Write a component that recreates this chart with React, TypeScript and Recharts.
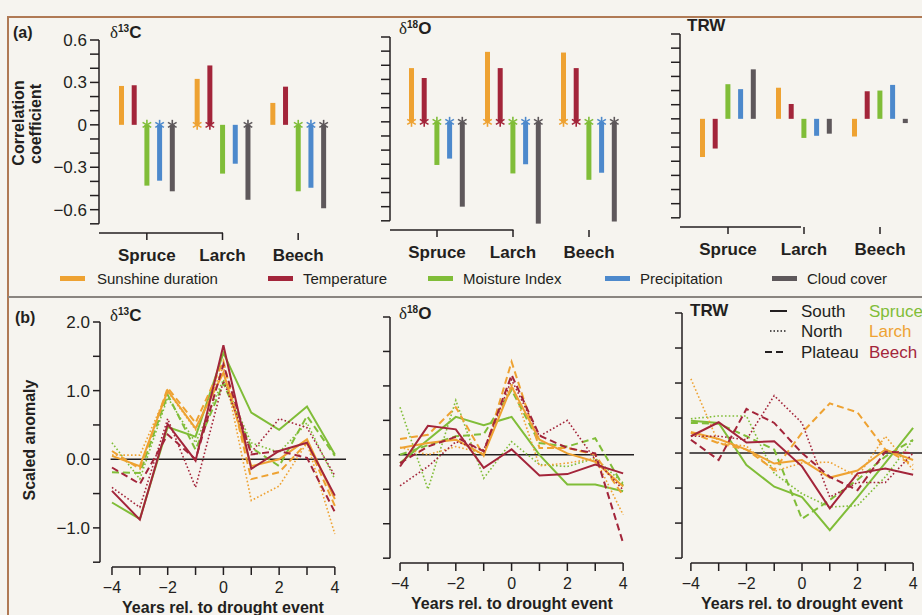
import { BarChart, Bar, LineChart, Line, XAxis, YAxis, ReferenceLine } from "recharts";

const FONT = '"Liberation Sans", Arial, sans-serif';
const SERIF = '"Liberation Serif", "DejaVu Serif", serif';
const INK = "#231f20";
const PAPER = "#f6f4ef";
const ORANGE = "#eea232";
const RED = "#a3253a";
const GREEN = "#80bd38";
const BLUE = "#4d89cc";
const GRAY = "#5e585b";

// ---- (a) correlation coefficients, values per species: Spruce, Larch, Beech
const species = ["Spruce", "Larch", "Beech"];
const climateNames = ["Sunshine duration", "Temperature", "Moisture Index", "Precipitation", "Cloud cover"];
const climateKeys = ["sun", "temp", "moist", "prec", "cloud"];
const climateColors = [ORANGE, RED, GREEN, BLUE, GRAY];

const c13Sun = [0.275, 0.325, 0.155];
const c13Temp = [0.28, 0.42, 0.27];
const c13Moist = [-0.43, -0.345, -0.47];
const c13Prec = [-0.395, -0.275, -0.445];
const c13Cloud = [-0.47, -0.53, -0.59];
const c13Sig = [
  [false, true, false],
  [false, true, false],
  [true, false, true],
  [true, false, true],
  [true, true, true],
];

const o18Sun = [0.38, 0.495, 0.49];
const o18Temp = [0.31, 0.38, 0.38];
const o18Moist = [-0.305, -0.365, -0.41];
const o18Prec = [-0.26, -0.3, -0.36];
const o18Cloud = [-0.6, -0.72, -0.705];
const o18Sig = [
  [true, true, true],
  [true, true, true],
  [true, true, true],
  [true, true, true],
  [true, true, true],
];

const trwSun = [-0.27, 0.22, -0.125];
const trwTemp = [-0.21, 0.105, 0.195];
const trwMoist = [0.245, -0.135, 0.2];
const trwPrec = [0.21, -0.12, 0.24];
const trwCloud = [0.35, -0.105, -0.03];
const trwSig = [
  [false, false, false],
  [false, false, false],
  [false, false, false],
  [false, false, false],
  [false, false, false],
];

const corrTicks = [-0.7, -0.6, -0.5, -0.4, -0.3, -0.2, -0.1, 0, 0.1, 0.2, 0.3, 0.4, 0.5, 0.6];

// ---- (b) scaled anomalies around drought years
const years = [-4, -3, -2, -1, 0, 1, 2, 3, 4];
const anomTicks = [-1.5, -1, -0.5, 0, 0.5, 1, 1.5, 2];

// δ13C
const c13SpruceSouth = [-0.63, -0.87, 0.47, 0.33, 1.55, 0.68, 0.43, 0.77, 0.07];
const c13SpruceNorth = [0.24, -0.29, 0.9, 0.24, 1.16, 0.24, 0.1, 0.53, -0.29];
const c13SprucePlateau = [-0.19, -0.2, 0.94, 0.14, 1.11, 0.17, -0.1, 0.63, 0.05];
const c13LarchSouth = [0.05, -0.1, 1.0, 0.45, 1.26, -0.1, 0.0, 0.29, -0.58];
const c13LarchNorth = [0.06, 0.06, 0.99, 0.43, 1.35, -0.6, -0.39, 0.24, -1.09];
const c13LarchPlateau = [0.12, -0.14, 1.04, 0.53, 1.43, -0.29, -0.19, 0.24, -0.68];
const c13BeechSouth = [-0.46, -0.88, 0.51, -0.02, 1.66, -0.14, 0.12, 0.24, -0.53];
const c13BeechNorth = [-0.41, -0.7, 0.59, -0.41, 1.14, 0.1, 0.59, 0.46, -0.24];
const c13BeechPlateau = [-0.12, -0.36, 0.36, 0.0, 1.38, 0.07, 0.12, 0.02, -0.77];

// δ18O
const o18SpruceSouth = [-0.12, 0.22, 0.55, 0.43, 0.55, 0.0, -0.43, -0.43, -0.53];
const o18SpruceNorth = [0.69, -0.5, 0.79, -0.34, 0.19, -0.14, -0.17, -0.05, -0.41];
const o18SprucePlateau = [0.0, 0.14, 0.27, 0.3, 0.94, 0.17, 0.12, 0.24, -0.45];
const o18LarchSouth = [0.1, 0.17, 0.22, 0.0, 0.99, 0.22, 0.02, -0.1, -0.46];
const o18LarchNorth = [0.11, 0.0, 0.12, 0.02, 1.04, -0.16, -0.12, -0.05, -0.87];
const o18LarchPlateau = [0.23, 0.29, 0.69, -0.01, 1.35, 0.1, 0.1, 0.0, -0.59];
const o18BeechSouth = [-0.17, 0.42, 0.37, -0.19, 0.08, -0.3, -0.28, -0.14, -0.27];
const o18BeechNorth = [-0.45, -0.17, 0.19, 0.07, 1.09, 0.27, 0.5, -0.07, -0.51];
const o18BeechPlateau = [-0.12, 0.12, 0.26, 0.05, 1.16, 0.28, 0.1, 0.02, -1.28];

// TRW
const trwSpruceSouth = [0.46, 0.43, -0.17, -0.48, -0.63, -1.1, -0.63, -0.14, 0.36];
const trwSpruceNorth = [0.49, 0.53, 0.53, -0.29, -0.58, -0.77, -0.75, -0.34, 0.19];
const trwSprucePlateau = [0.43, 0.42, 0.24, 0.05, -0.94, -0.67, -0.38, -0.05, 0.19];
const trwLarchSouth = [0.3, 0.2, 0.05, -0.15, -0.1, -0.35, -0.25, 0.05, -0.1];
const trwLarchNorth = [1.06, 0.14, 0.1, -0.26, -0.14, -0.13, -0.34, 0.24, -0.24];
const trwLarchPlateau = [0.29, 0.14, 0.05, -0.24, 0.29, 0.71, 0.58, 0.05, -0.17];
const trwBeechSouth = [0.24, 0.44, 0.15, 0.17, -0.19, -0.79, -0.29, -0.22, -0.31];
const trwBeechNorth = [0.24, 0.24, 0.19, 0.82, 0.43, -0.63, -0.42, -0.42, 0.0];
const trwBeechPlateau = [0.19, -0.1, 0.63, 0.43, 0.0, -0.34, -0.53, 0.02, 0.0];

const seriesKeys = [
  "spruceSouth", "spruceNorth", "sprucePlateau",
  "larchSouth", "larchNorth", "larchPlateau",
  "beechSouth", "beechNorth", "beechPlateau",
];
const seriesColors = [GREEN, GREEN, GREEN, ORANGE, ORANGE, ORANGE, RED, RED, RED];
const siteDash = ["", "1.6 2.2", "7 4"];
const siteWidth = [2, 1.6, 2];

const CORR_MIN = -0.765;
const ANOM_MIN = -1.57;

function barRows(vals: number[][], sig: boolean[][]) {
  return species.map((s, i) => {
    const row: any = { species: s };
    climateKeys.forEach((k, j) => {
      row[k] = vals[j][i];
      row[k + "Sig"] = sig[j][i];
    });
    return row;
  });
}

function lineRows(vals: number[][]) {
  return years.map((y, i) => {
    const row: any = { year: y };
    seriesKeys.forEach((k, j) => (row[k] = vals[j][i]));
    return row;
  });
}

const c13Bars = barRows([c13Sun, c13Temp, c13Moist, c13Prec, c13Cloud], c13Sig);
const o18Bars = barRows([o18Sun, o18Temp, o18Moist, o18Prec, o18Cloud], o18Sig);
const trwBars = barRows([trwSun, trwTemp, trwMoist, trwPrec, trwCloud], trwSig);

const c13Lines = lineRows([
  c13SpruceSouth, c13SpruceNorth, c13SprucePlateau,
  c13LarchSouth, c13LarchNorth, c13LarchPlateau,
  c13BeechSouth, c13BeechNorth, c13BeechPlateau,
]);
const o18Lines = lineRows([
  o18SpruceSouth, o18SpruceNorth, o18SprucePlateau,
  o18LarchSouth, o18LarchNorth, o18LarchPlateau,
  o18BeechSouth, o18BeechNorth, o18BeechPlateau,
]);
const trwLines = lineRows([
  trwSpruceSouth, trwSpruceNorth, trwSprucePlateau,
  trwLarchSouth, trwLarchNorth, trwLarchPlateau,
  trwBeechSouth, trwBeechNorth, trwBeechPlateau,
]);

const corrLabel = (v: number) => {
  const r = Math.round(v * 10);
  if (r === 6) return "0.6";
  if (r === 3) return "0.3";
  if (r === 0) return "0";
  if (r === -3) return "\u22120.3";
  if (r === -6) return "\u22120.6";
  return "";
};
const anomLabel = (v: number) => {
  const r = Math.round(v * 2);
  if (r === 4) return "2.0";
  if (r === 2) return "1.0";
  if (r === 0) return "0.0";
  if (r === -2) return "\u22121.0";
  return "";
};
const yearLabel = (v: number) => (v % 2 === 0 ? (v < 0 ? "\u2212" + Math.abs(v) : String(v)) : "");
const blank = () => "";

function StarBar(props: any) {
  const { x, y, width, height, fill, payload, k } = props;
  const top = Math.min(y, y + height);
  const h = Math.abs(height);
  const base = payload[k] >= 0 ? top + h : top;
  const cx = x + width / 2;
  return (
    <g>
      <rect x={x} y={top} width={width} height={h} fill={fill} />
      {payload[k + "Sig"] && (
        <g stroke={fill} strokeWidth={1.6}>
          <line x1={cx} y1={base - 5} x2={cx} y2={base + 5} />
          <line x1={cx - 4.3} y1={base - 2.5} x2={cx + 4.3} y2={base + 2.5} />
          <line x1={cx - 4.3} y1={base + 2.5} x2={cx + 4.3} y2={base - 2.5} />
        </g>
      )}
    </g>
  );
}

function BarPanel(p: any) {
  return (
    <div style={{ position: "absolute", left: p.left, top: 0 }}>
      <BarChart width={p.width} height={268} data={p.rows} margin={p.margin} barGap={7.7}>
        <XAxis
          dataKey="species"
          height={p.xh}
          padding={p.pad}
          interval={0}
          axisLine={false}
          tickSize={7}
          tickMargin={9}
          tickLine={{ stroke: INK, strokeWidth: 1.5 }}
          tick={{ fontSize: 17, fontWeight: 700, fill: INK, fontFamily: FONT }}
        />
        <XAxis xAxisId="frame" type="number" domain={[0, 1]} hide />
        <YAxis
          width={p.yw}
          type="number"
          domain={[CORR_MIN, 0.6]}
          allowDataOverflow
          ticks={corrTicks}
          interval={0}
          axisLine={false}
          tickSize={9}
          tickMargin={3}
          tickLine={{ stroke: INK, strokeWidth: 1.5 }}
          tickFormatter={p.labels ? corrLabel : blank}
          tick={{ fontSize: 17, fill: INK, fontFamily: FONT }}
        />
        <ReferenceLine xAxisId="frame" ifOverflow="visible" stroke={INK} strokeWidth={1.5}
          segment={[{ x: 0, y: -0.7 }, { x: 0, y: 0.6 }]} />
        <ReferenceLine xAxisId="frame" ifOverflow="visible" stroke={INK} strokeWidth={1.5}
          segment={[{ x: 0, y: CORR_MIN }, { x: 1, y: CORR_MIN }]} />
        {climateKeys.map((k, j) => (
          <Bar
            key={k}
            dataKey={k}
            fill={climateColors[j]}
            barSize={5}
            isAnimationActive={false}
            shape={(sp: any) => <StarBar {...sp} k={k} />}
          />
        ))}
      </BarChart>
    </div>
  );
}

function LinePanel(p: any) {
  return (
    <div style={{ position: "absolute", left: p.left, top: 296 }}>
      <LineChart width={p.width} height={319} data={p.rows} margin={p.margin}>
        <XAxis
          dataKey="year"
          type="number"
          domain={p.xd}
          allowDataOverflow
          ticks={years}
          interval={0}
          height={p.xh}
          axisLine={false}
          tickSize={8}
          tickMargin={7}
          tickLine={{ stroke: INK, strokeWidth: 1.5 }}
          tickFormatter={yearLabel}
          tick={{ fontSize: 16, fill: INK, fontFamily: FONT }}
          label={(lp: any) => {
            const vb = lp.viewBox || {};
            return (
              <text x={vb.x + vb.width / 2} y={vb.y + 46} textAnchor="middle" fontSize={16}
                fontWeight={700} fill={INK} fontFamily={FONT}>
                Years rel. to drought event
              </text>
            );
          }}
        />
        <YAxis
          width={p.yw}
          type="number"
          domain={[ANOM_MIN, 2]}
          allowDataOverflow
          ticks={anomTicks}
          interval={0}
          axisLine={false}
          tickSize={7}
          tickMargin={3}
          tickLine={{ stroke: INK, strokeWidth: 1.5 }}
          tickFormatter={p.labels ? anomLabel : blank}
          tick={{ fontSize: 17, fill: INK, fontFamily: FONT }}
        />
        <ReferenceLine ifOverflow="visible" stroke={INK} strokeWidth={1.5}
          segment={[{ x: p.xd[0], y: -1.5 }, { x: p.xd[0], y: 2 }]} />
        <ReferenceLine ifOverflow="visible" stroke={INK} strokeWidth={1.5}
          segment={[{ x: -4, y: ANOM_MIN }, { x: 4, y: ANOM_MIN }]} />
        <ReferenceLine ifOverflow="visible" stroke={INK} strokeWidth={1.5}
          segment={[{ x: -4.05, y: 0 }, { x: p.xd[1], y: 0 }]} />
        {seriesKeys.map((k, j) => (
          <Line
            key={k}
            dataKey={k}
            type="linear"
            stroke={seriesColors[j]}
            strokeWidth={siteWidth[j % 3]}
            strokeDasharray={siteDash[j % 3] || undefined}
            dot={false}
            activeDot={false}
            isAnimationActive={false}
          />
        ))}
      </LineChart>
    </div>
  );
}

function Iso({ left, top, mass, el }: any) {
  return (
    <div style={{ position: "absolute", left, top, fontFamily: FONT, fontWeight: 700, fontSize: 17, color: INK, lineHeight: 1, whiteSpace: "nowrap" }}>
      {mass ? (
        <>
          <span style={{ fontFamily: SERIF, fontWeight: 400 }}>δ</span>
          <span style={{ fontSize: 10, position: "relative", top: -6 }}>{mass}</span>
        </>
      ) : null}
      {el}
    </div>
  );
}

function Txt({ left, top, size, bold, color, children, rotate }: any) {
  const st: any = {
    position: "absolute", left, top, fontFamily: FONT, fontSize: size, fontWeight: bold ? 700 : 400,
    color: color || INK, lineHeight: 1, whiteSpace: "nowrap",
  };
  if (rotate) st.transform = "translate(-50%, -50%) rotate(-90deg)";
  return <div style={st}>{children}</div>;
}

const legendX = [60, 268, 428, 605, 772];
const legendTextX = [97, 303, 463, 640, 807];

export default function App() {
  return (
    <div style={{ position: "absolute", left: 0, top: 0, width: 922, height: 615, overflow: "hidden", background: PAPER }}>
      <div style={{ position: "absolute", left: 7, top: 16, width: 915, height: 1.5, background: "#b07a55" }} />
      <div style={{ position: "absolute", left: 7, top: 16, width: 1.5, height: 599, background: "#b07a55" }} />
      <div style={{ position: "absolute", left: 8, top: 296, width: 914, height: 1.5, background: "#8a8580" }} />

      <BarPanel left={0} width={350} rows={c13Bars} labels xh={29} yw={99}
        margin={{ top: 40, right: 3, bottom: 6, left: 0 }} pad={{ left: 10, right: 11 }} />
      <BarPanel left={350} width={290} rows={o18Bars} xh={32} yw={40}
        margin={{ top: 37, right: 3, bottom: 6, left: 0 }} pad={{ left: 9, right: 10 }} />
      <BarPanel left={640} width={282} rows={trwBars} xh={35} yw={40}
        margin={{ top: 34, right: 0, bottom: 6, left: 0 }} pad={{ left: 10, right: 4 }} />

      <LinePanel left={0} width={350} rows={c13Lines} labels xh={48} yw={100} xd={[-4.43, 4.4]}
        margin={{ top: 26, right: 4, bottom: 0, left: 0 }} />
      <LinePanel left={350} width={290} rows={o18Lines} xh={52} yw={40} xd={[-4.36, 4.39]}
        margin={{ top: 21, right: 6, bottom: 0, left: 0 }} />
      <LinePanel left={640} width={282} rows={trwLines} xh={52} yw={42} xd={[-4.32, 4.32]}
        margin={{ top: 17, right: 0, bottom: 0, left: 0 }} />

      <Txt left={13} top={25} size={16} bold>(a)</Txt>
      <Txt left={15} top={310} size={16} bold>(b)</Txt>
      <Iso left={110} top={24} mass="13" el="C" />
      <Iso left={399} top={20} mass="18" el="O" />
      <Iso left={687} top={17} el="TRW" />
      <Iso left={110} top={307} mass="13" el="C" />
      <Iso left={399} top={305} mass="18" el="O" />
      <Iso left={690} top={302} el="TRW" />

      <Txt left={19} top={123} size={16} bold rotate>Correlation</Txt>
      <Txt left={36} top={124} size={16} bold rotate>coefficient</Txt>
      <Txt left={30} top={440} size={16} bold rotate>Scaled anomaly</Txt>

      {climateNames.map((n, i) => (
        <div key={n}>
          <div style={{ position: "absolute", left: legendX[i], top: 276, width: 25, height: 5, background: climateColors[i] }} />
          <Txt left={legendTextX[i]} top={271} size={15}>{n}</Txt>
        </div>
      ))}

      <svg style={{ position: "absolute", left: 760, top: 300 }} width={30} height={60}>
        <line x1={10} x2={27} y1={11} y2={11} stroke={INK} strokeWidth={2} />
        <line x1={10} x2={27} y1={31} y2={31} stroke={INK} strokeWidth={1.5} strokeDasharray="1.5 2" />
        <line x1={5} x2={27} y1={52} y2={52} stroke={INK} strokeWidth={2} strokeDasharray="7 4" />
      </svg>
      <Txt left={801} top={302.7} size={17}>South</Txt>
      <Txt left={801} top={322.7} size={17}>North</Txt>
      <Txt left={801} top={343.7} size={17}>Plateau</Txt>
      <Txt left={869} top={302.7} size={17} color={GREEN}>Spruce</Txt>
      <Txt left={869} top={322.7} size={17} color={ORANGE}>Larch</Txt>
      <Txt left={869} top={343.7} size={17} color={RED}>Beech</Txt>
    </div>
  );
}
